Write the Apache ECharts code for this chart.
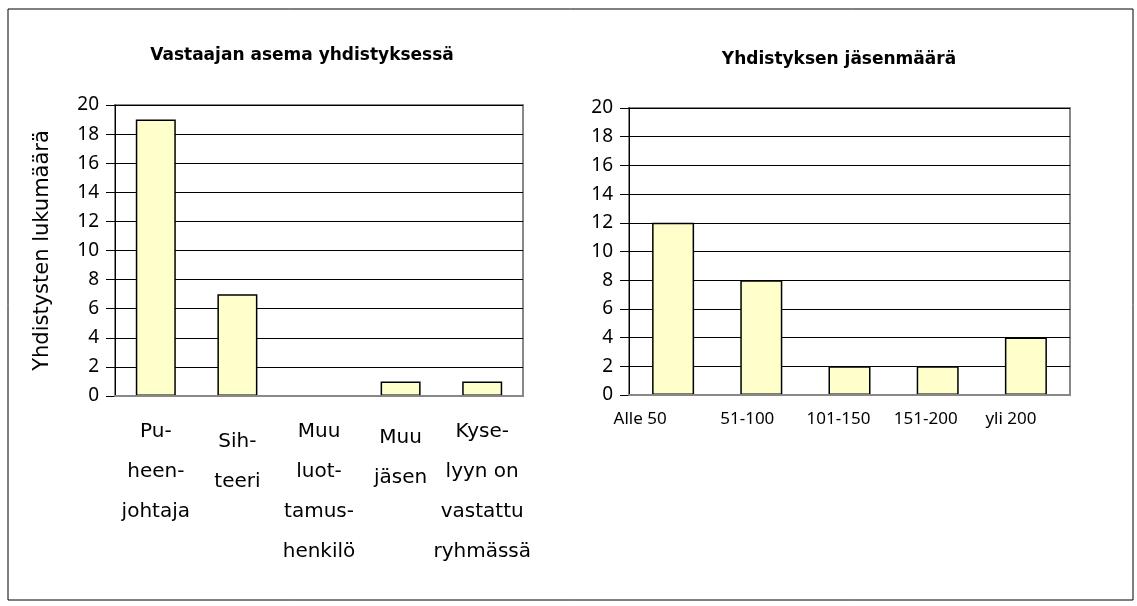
<!DOCTYPE html>
<html>
<head>
<meta charset="utf-8">
<script src="https://cdn.jsdelivr.net/npm/echarts@6/dist/echarts.min.js"></script>
<style>
  html, body { margin: 0; padding: 0; background: #fff; }
  #main { width: 1137px; height: 606px; }
</style>
</head>
<body>
<div id="main"></div>
<script>
// vasen kaavio: vastaajan asema
const asemaKategoriat = ['Pu-\nheen-\njohtaja', 'Sih-\nteeri', 'Muu\nluot-\ntamus-\nhenkilö', 'Muu\njäsen', 'Kyse-\nlyyn on\nvastattu\nryhmässä'];
const asemaArvot = [19, 7, 0, 1, 1];

// oikea kaavio: jäsenmäärä
const jasenKategoriat = ['Alle 50', '51-100', '101-150', '151-200', 'yli 200'];
const jasenArvot = [12, 8, 2, 2, 4];

const yTicks = [0, 2, 4, 6, 8, 10, 12, 14, 16, 18, 20];

const font = 'Noto Sans';
const wideFont = 'DejaVu Sans';

// excelin tekstit eivät ole ihan keskellä, pieni siirto per otsikko
const asemaPad = [[0, 0, 0, 0], [10, 0, 0, 0], [0, 0, 0, 0], [6, 0, 0, 0], [0, 0, 0, 0]];
const jasenPad = [[0, 66, 0, 0], [0, 28, 0, 0], [0, 22, 0, 0], [0, 24, 0, 0], [0, 30, 0, 0]];

const chart = echarts.init(document.getElementById('main'));

function yAxisFor(gridIndex, extra) {
  return Object.assign({
    type: 'value',
    gridIndex: gridIndex,
    min: yTicks[0],
    max: yTicks[yTicks.length - 1],
    interval: 2,
    axisLine: { show: true, lineStyle: { color: '#000', width: 1 } },
    axisTick: { show: true, length: 9, lineStyle: { color: '#000' } },
    axisLabel: { color: '#000', fontFamily: font, fontSize: 19, margin: 16 },
    splitLine: { show: true, lineStyle: { color: '#000', width: 1 } }
  }, extra || {});
}

function xAxisFor(gridIndex, names, pads, labelExtra) {
  return {
    type: 'category',
    gridIndex: gridIndex,
    z: 5,
    data: names.map((n, i) => ({ value: n, textStyle: { padding: pads[i] } })),
    axisLine: { show: true, lineStyle: { color: '#888', width: 2 } },
    axisTick: { show: false },
    axisLabel: Object.assign({
      color: '#000', fontFamily: font, interval: 0
    }, labelExtra)
  };
}

const barStyle = { color: '#ffffcc', borderColor: '#000', borderWidth: 1.5 };

const option = {
  animation: false,
  backgroundColor: '#fff',
  graphic: [{
    type: 'rect',
    shape: { x: 8, y: 9, width: 1125, height: 591 },
    style: { fill: 'none', stroke: '#000', lineWidth: 1 }
  }],
  title: [
    {
      text: 'Vastaajan asema yhdistyksessä',
      left: 297, top: 42, textAlign: 'center',
      textStyle: { fontFamily: wideFont, fontSize: 17, fontWeight: 'bold', color: '#000' }
    },
    {
      text: 'Yhdistyksen jäsenmäärä',
      left: 834, top: 46, textAlign: 'center',
      textStyle: { fontFamily: wideFont, fontSize: 17, fontWeight: 'bold', color: '#000' }
    }
  ],
  grid: [
    { left: 115, right: 614, top: 105, bottom: 210, show: true, borderColor: '#888', borderWidth: 2, backgroundColor: '#fff' },
    { left: 629, right: 67, top: 108, bottom: 211, show: true, borderColor: '#888', borderWidth: 2, backgroundColor: '#fff' }
  ],
  xAxis: [
    xAxisFor(0, asemaKategoriat, asemaPad, { fontFamily: wideFont, fontSize: 20, lineHeight: 40, margin: 16 }),
    xAxisFor(1, jasenKategoriat, jasenPad, { fontSize: 17, margin: 16 })
  ],
  yAxis: [
    yAxisFor(0, {
      name: 'Yhdistysten lukumäärä',
      nameLocation: 'middle',
      nameGap: 62,
      nameTextStyle: { fontFamily: wideFont, fontSize: 21, color: '#000' }
    }),
    yAxisFor(1)
  ],
  series: [
    {
      type: 'bar', xAxisIndex: 0, yAxisIndex: 0, z: 2,
      data: asemaArvot, barWidth: 40, itemStyle: barStyle
    },
    {
      type: 'bar', xAxisIndex: 1, yAxisIndex: 1, z: 2,
      data: jasenArvot, barWidth: 42, itemStyle: barStyle
    }
  ]
};

chart.setOption(option);
</script>
</body>
</html>
